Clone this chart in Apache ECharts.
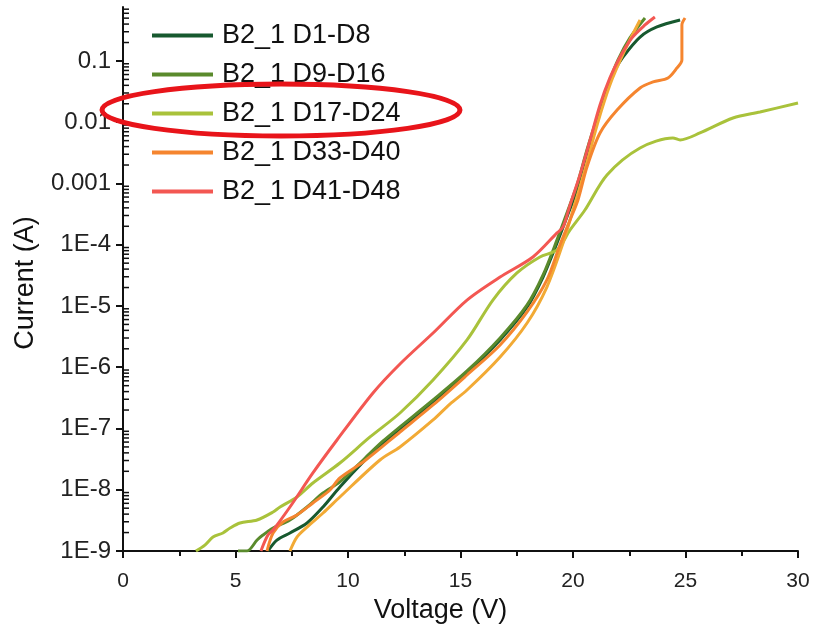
<!DOCTYPE html>
<html>
<head>
<meta charset="utf-8">
<script src="https://cdn.jsdelivr.net/npm/echarts@6/dist/echarts.min.js"></script>
<style>
html,body{margin:0;padding:0;background:#fff;}
#chart{width:815px;height:625px;}
</style>
</head>
<body>
<div id="chart"></div>
<script>
// ---- Data (Voltage in V, Current in A) ----
const legendNames = ['B2_1 D1-D8', 'B2_1 D9-D16', 'B2_1 D17-D24', 'B2_1 D33-D40', 'B2_1 D41-D48'];
const extraName = 'B2_1 D25-D32';
const yTickValues = [1e-9, 1e-8, 1e-7, 1e-6, 1e-5, 1e-4, 0.001, 0.01, 0.1];
const yTickLabels = ['1E-9', '1E-8', '1E-7', '1E-6', '1E-5', '1E-4', '0.001', '0.01', '0.1'];
const yMinorMultipliers = [2, 3, 4, 5, 6, 7, 8, 9];

const d1_V = [6.44, 6.84, 7.42, 8.18, 8.89, 9.64, 10.76, 11.56, 12.31, 13.78, 14.53, 15.29, 16.76, 17.96, 18.67, 19.29, 19.73, 20.09, 20.53, 21.07, 21.51, 21.87, 22.22, 22.98, 23.73, 24.76];
const d1_I = [1e-9, 1.51e-9, 1.97e-9, 2.87e-9, 5.23e-9, 1.11e-8, 3.06e-8, 5.8e-8, 9.46e-8, 2.61e-7, 4.58e-7, 8.05e-7, 2.79e-6, 9.63e-6, 2.97e-5, 1.07e-4, 2.84e-4, 6.49e-4, 2.42e-3, 1.09e-2, 3.36e-2, 7.13e-2, 0.116, 0.246, 0.359, 0.467];

const d9_V = [5.11, 5.51, 5.96, 6.22, 6.67, 7.42, 8.18, 8.89, 9.64, 10.76, 11.56, 12.31, 13.78, 15.29, 16.76, 17.96, 18.67, 19.29, 19.73, 20.18, 20.62, 21.11, 21.56, 22.0, 22.53, 23.2];
const d9_I = [1e-9, 1e-9, 1.51e-9, 1.82e-9, 2.37e-9, 3.21e-9, 5.23e-9, 8.85e-9, 1.34e-8, 3.3e-8, 6.25e-8, 1.06e-7, 2.92e-7, 8.69e-7, 3.01e-6, 1.04e-5, 3.21e-5, 1.2e-4, 3.3e-4, 9.46e-4, 3.52e-3, 1.31e-2, 4.06e-2, 0.104, 0.238, 0.503];

const d17_V = [3.24, 3.64, 4.0, 4.44, 4.76, 5.2, 5.96, 6.67, 6.98, 7.73, 8.44, 9.64, 10.98, 12.31, 13.78, 15.29, 16.44, 17.51, 18.53, 19.29, 19.87, 20.53, 21.51, 22.98, 24.44, 24.76, 25.64, 27.11, 28.31, 30.0];
const d17_I = [1e-9, 1.25e-9, 1.69e-9, 1.97e-9, 2.37e-9, 2.87e-9, 3.21e-9, 4.33e-9, 5.23e-9, 7.62e-9, 1.29e-8, 2.73e-8, 7.27e-8, 1.79e-7, 6.19e-7, 2.79e-6, 1.25e-5, 3.46e-5, 6.31e-5, 8.21e-5, 1.74e-4, 3.69e-4, 1.38e-3, 3.8e-3, 5.53e-3, 5.13e-3, 6.67e-3, 1.17e-2, 1.47e-2, 2.06e-2];

const d25_V = [7.42, 7.73, 8.18, 8.89, 9.64, 11.42, 12.31, 13.78, 14.53, 15.29, 16.76, 17.96, 18.84, 19.56, 20.0, 20.53, 21.07, 21.64, 22.31, 22.98];
const d25_I = [1e-9, 1.69e-9, 2.46e-9, 4.17e-9, 7.62e-9, 3.06e-8, 4.99e-8, 1.38e-7, 2.51e-7, 4.25e-7, 1.47e-6, 5.28e-6, 2.04e-5, 1.07e-4, 3.69e-4, 1.66e-3, 9.02e-3, 4.06e-2, 0.151, 0.467];

const d33_V = [6.4, 6.67, 7.11, 7.73, 8.44, 9.2, 9.64, 10.76, 12.31, 13.78, 15.29, 16.76, 17.96, 18.84, 19.42, 19.87, 20.22, 20.62, 21.2, 21.96, 22.98, 23.56, 24.22, 24.62, 24.84, 24.84, 24.98];
const d33_I = [1e-9, 1.97e-9, 2.97e-9, 3.87e-9, 6.08e-9, 9.91e-9, 1.56e-8, 3.0e-8, 8.77e-8, 2.42e-7, 7.47e-7, 2.31e-6, 7.98e-6, 2.66e-5, 9.91e-5, 2.54e-4, 5.38e-4, 1.86e-3, 6.67e-3, 1.58e-2, 3.62e-2, 4.54e-2, 5.28e-2, 7.69e-2, 0.104, 0.387, 0.503];

const d41_V = [6.13, 6.44, 6.67, 7.42, 8.44, 9.51, 11.11, 12.31, 13.78, 15.29, 16.76, 18.22, 19.29, 19.56, 19.87, 20.31, 20.76, 21.2, 21.64, 22.09, 22.62, 23.2, 23.64];
const d41_I = [1e-9, 1.82e-9, 2.2e-9, 5.23e-9, 1.88e-8, 6.49e-8, 3.8e-7, 1.13e-6, 3.62e-6, 1.25e-5, 2.97e-5, 6.31e-5, 1.56e-4, 1.95e-4, 4.46e-4, 1.38e-3, 5.13e-3, 1.91e-2, 5.28e-2, 0.116, 0.238, 0.387, 0.522];

const colors = {
  d1: '#17592f', d9: '#5a8a2c', d17: '#a9c23b', d25: '#f2aa35', d33: '#f5852f', d41: '#f35752'
};

const Y_MIN = 1e-9, Y_MAX = 0.76;

function pairs(v, i) { return v.map((x, k) => [x, i[k]]); }

// minor tick values (log spaced, 2..9 x 10^n)
const yMinorValues = [];
yTickValues.forEach(t => yMinorMultipliers.forEach(m => { const v = t * m; if (v < Y_MAX) yMinorValues.push([0, v]); }));

const FONT = '"Liberation Sans", Arial, Helvetica, sans-serif';
const chart = echarts.init(document.getElementById('chart'), null, {renderer: 'canvas'});

function lineSeries(name, v, i, color) {
  return {
    type: 'line', name: name, data: pairs(v, i), showSymbol: false, symbol: 'none',
    smooth: 0.3, xAxisIndex: 0, yAxisIndex: 0,
    lineStyle: {color: color, width: 3}, itemStyle: {color: color},
    emphasis: {disabled: true}, animation: false
  };
}

function yLabel(v) {
  const lv = Math.log10(v);
  const e = Math.round(lv);
  if (Math.abs(lv - e) > 1e-6) return '';
  const idx = yTickValues.findIndex(t => Math.abs(Math.log10(t) - e) < 1e-6);
  return idx >= 0 ? yTickLabels[idx] : '';
}

const option = {
  backgroundColor: '#ffffff',
  animation: false,
  grid: {left: 123, right: 17, top: 7, bottom: 74, containLabel: false, outerBoundsMode: 'none'},
  legend: {
    data: legendNames, orient: 'vertical', left: 152, top: 22, padding: 0,
    icon: 'rect', itemWidth: 61, itemHeight: 4, itemGap: 12,
    textStyle: {fontFamily: FONT, fontSize: 27, color: '#111', lineHeight: 27, padding: [0, 0, 0, 4]},
    selectedMode: false
  },
  xAxis: {
    type: 'value', min: 0, max: 30, interval: 5,
    name: 'Voltage (V)', nameLocation: 'middle', nameGap: 42,
    nameTextStyle: {fontFamily: FONT, fontSize: 27, color: '#111', padding: [0, 40, 0, 0]},
    axisLine: {show: true, onZero: false, lineStyle: {color: '#111', width: 2}},
    axisTick: {show: true, length: 7, lineStyle: {color: '#111', width: 2}},
    minorTick: {show: true, splitNumber: 2, length: 5, lineStyle: {color: '#111', width: 2}},
    axisLabel: {fontFamily: FONT, fontSize: 21, color: '#222', margin: 20},
    splitLine: {show: false}
  },
  yAxis: {
    type: 'log', logBase: 10, min: Y_MIN, max: Y_MAX, position: 'left',
    name: 'Current (A)', nameLocation: 'middle', nameGap: 84, nameRotate: 90,
    nameTextStyle: {fontFamily: FONT, fontSize: 27, color: '#111', padding: [0, 8, 0, 0]},
    axisLine: {show: true, lineStyle: {color: '#111', width: 2}},
    axisTick: {show: true, length: 7, lineStyle: {color: '#111', width: 2}},
    axisLabel: {fontFamily: FONT, fontSize: 24, color: '#222', margin: 12, formatter: yLabel, showMaxLabel: false},
    splitLine: {show: false}
  },
  series: [
    lineSeries(legendNames[0], d1_V, d1_I, colors.d1),
    lineSeries(legendNames[1], d9_V, d9_I, colors.d9),
    lineSeries(legendNames[2], d17_V, d17_I, colors.d17),
    lineSeries(extraName, d25_V, d25_I, colors.d25),
    lineSeries(legendNames[3], d33_V, d33_I, colors.d33),
    lineSeries(legendNames[4], d41_V, d41_I, colors.d41),
    {
      // minor ticks on the log y-axis (inside), placed via the axis scale
      type: 'custom', name: 'yMinorTicks', data: yMinorValues, silent: true, clip: false,
      xAxisIndex: 0, yAxisIndex: 0, z: 5,
      renderItem: function (params, api) {
        const p = api.coord([api.value(0), api.value(1)]);
        return {type: 'line', shape: {x1: p[0], y1: p[1], x2: p[0] + 6, y2: p[1]},
          style: {stroke: '#111', lineWidth: 1.5}};
      }
    }
  ],
  graphic: [{
    type: 'ellipse', shape: {cx: 281, cy: 110, rx: 179, ry: 26},
    style: {fill: 'none', stroke: '#e8141a', lineWidth: 5}, z: 100, silent: true
  }]
};
chart.setOption(option);
</script>
</body>
</html>
